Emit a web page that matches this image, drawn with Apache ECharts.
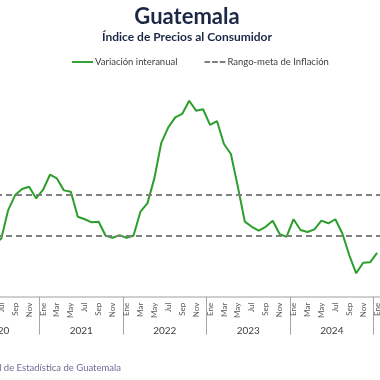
<!DOCTYPE html>
<html>
<head>
<meta charset="utf-8">
<script src="https://cdn.jsdelivr.net/npm/echarts@6/dist/echarts.min.js"></script>
<style>
html,body{margin:0;padding:0;background:#fff;overflow:hidden;width:380px;height:380px;position:relative;}
#c{position:absolute;left:-60px;top:0;width:560px;height:380px;}
</style>
</head>
<body>
<div id="c"></div>
<script>
const monthNames = ['Ene','Feb','Mar','Abr','May','Jun','Jul','Ago','Sep','Oct','Nov','Dic'];
const years = ['2020','2021','2022','2023','2024','2025'];
const v2020 = [null,null,null,null,null,2.6,2.85,4.26,5.0,5.30,5.41,4.84];
const v2021 = [5.25,6.0,5.82,5.23,5.16,3.93,3.81,3.66,3.69,3.0,2.90,3.03];
const v2022 = [2.90,3.00,4.18,4.59,5.82,7.57,8.33,8.82,8.99,9.64,9.15,9.22];
const v2023 = [8.45,8.64,7.51,7.02,5.40,3.69,3.44,3.25,3.44,3.74,3.08,2.95];
const v2024 = [3.81,3.28,3.18,3.31,3.74,3.61,3.81,3.12,2.05,1.15,1.67,1.69];
const v2025 = [2.16,null,null,null,null,null,null,null,null,null,null,null];
const targetLow = 3;
const targetHigh = 5;

const categories = [];
years.forEach(y => monthNames.forEach(m => categories.push(m + '-' + y)));
const inflation = [].concat(v2020, v2021, v2022, v2023, v2024, v2025);

const FONT = 'Lato';
const OX = 60; // div offset to the left of the viewport
const chart = echarts.init(document.getElementById('c'));
chart.setOption({
  animation: false,
  textStyle: {fontFamily: FONT},
  legend: {
    left: 72 + OX, top: 57, padding: 0,
    itemWidth: 21, itemHeight: 2, itemGap: 27,
    textStyle: {fontFamily: FONT, fontSize: 9.5, color: '#404040', padding: [0,0,0,-3]},
    data: [
      {name: 'Variación interanual', icon: 'path://M0,0H22V2H0Z'},
      {name: 'Rango-meta de Inflación', icon: 'path://M0,0H6V2H0Z M8,0H14V2H8Z M16,0H22V2H16Z'}
    ]
  },
  grid: {left: 16, top: 93.4, width: 501.1, height: 203.3},
  xAxis: [{
    type: 'category',
    data: categories,
    boundaryGap: true,
    position: 'bottom',
    axisLine: {show: true, lineStyle: {color: '#c0c0c0', width: 1.5}},
    axisTick: {show: false},
    axisLabel: {
      interval: 1, rotate: 90, margin: 6, fontSize: 8, color: '#595959', fontFamily: FONT,
      formatter: v => v.split('-')[0]
    }
  }, {
    type: 'category',
    data: years,
    boundaryGap: true,
    position: 'bottom',
    offset: 0,
    axisLine: {show: false},
    axisTick: {show: true, length: 38, lineStyle: {color: '#a6a6a6', width: 1}},
    axisLabel: {margin: 29, fontSize: 10, color: '#404040', fontFamily: FONT}
  }],
  yAxis: {
    type: 'value', min: 0, max: 10, show: false, splitLine: {show: false}
  },
  series: [{
    name: 'Variación interanual',
    type: 'line',
    data: inflation,
    symbol: 'none',
    connectNulls: false,
    lineStyle: {color: '#2b9e2b', width: 2},
    itemStyle: {color: '#2b9e2b'}
  }, {
    name: 'Rango-meta de Inflación',
    type: 'line',
    data: [],
    symbol: 'none',
    lineStyle: {color: '#808080', width: 2, type: [6, 4]},
    itemStyle: {color: '#808080'},
    markLine: {
      silent: true,
      symbol: 'none',
      label: {show: false},
      lineStyle: {color: '#808080', width: 2, type: [6, 4]},
      data: [{yAxis: targetLow}, {yAxis: targetHigh}]
    }
  }],
  graphic: [{
    type: 'text',
    x: 187 + OX, y: 17,
    style: {
      text: 'Guatemala', fill: '#1b2845', font: 'bold 22px ' + FONT,
      align: 'center', verticalAlign: 'middle', textAlign: 'center', textVerticalAlign: 'middle'
    }
  }, {
    type: 'text',
    x: 187 + OX, y: 37,
    style: {
      text: 'Índice de Precios al Consumidor', fill: '#1b2845', font: 'bold 12px ' + FONT,
      align: 'center', verticalAlign: 'middle', textAlign: 'center', textVerticalAlign: 'middle'
    }
  }, {
    type: 'text',
    x: 121 + OX, y: 368,
    style: {
      text: 'Fuente: Instituto Nacional de Estadística de Guatemala',
      fill: '#6d6d96', font: '9.5px ' + FONT,
      align: 'right', verticalAlign: 'middle', textAlign: 'right', textVerticalAlign: 'middle'
    }
  }]
});
</script>
</body>
</html>
